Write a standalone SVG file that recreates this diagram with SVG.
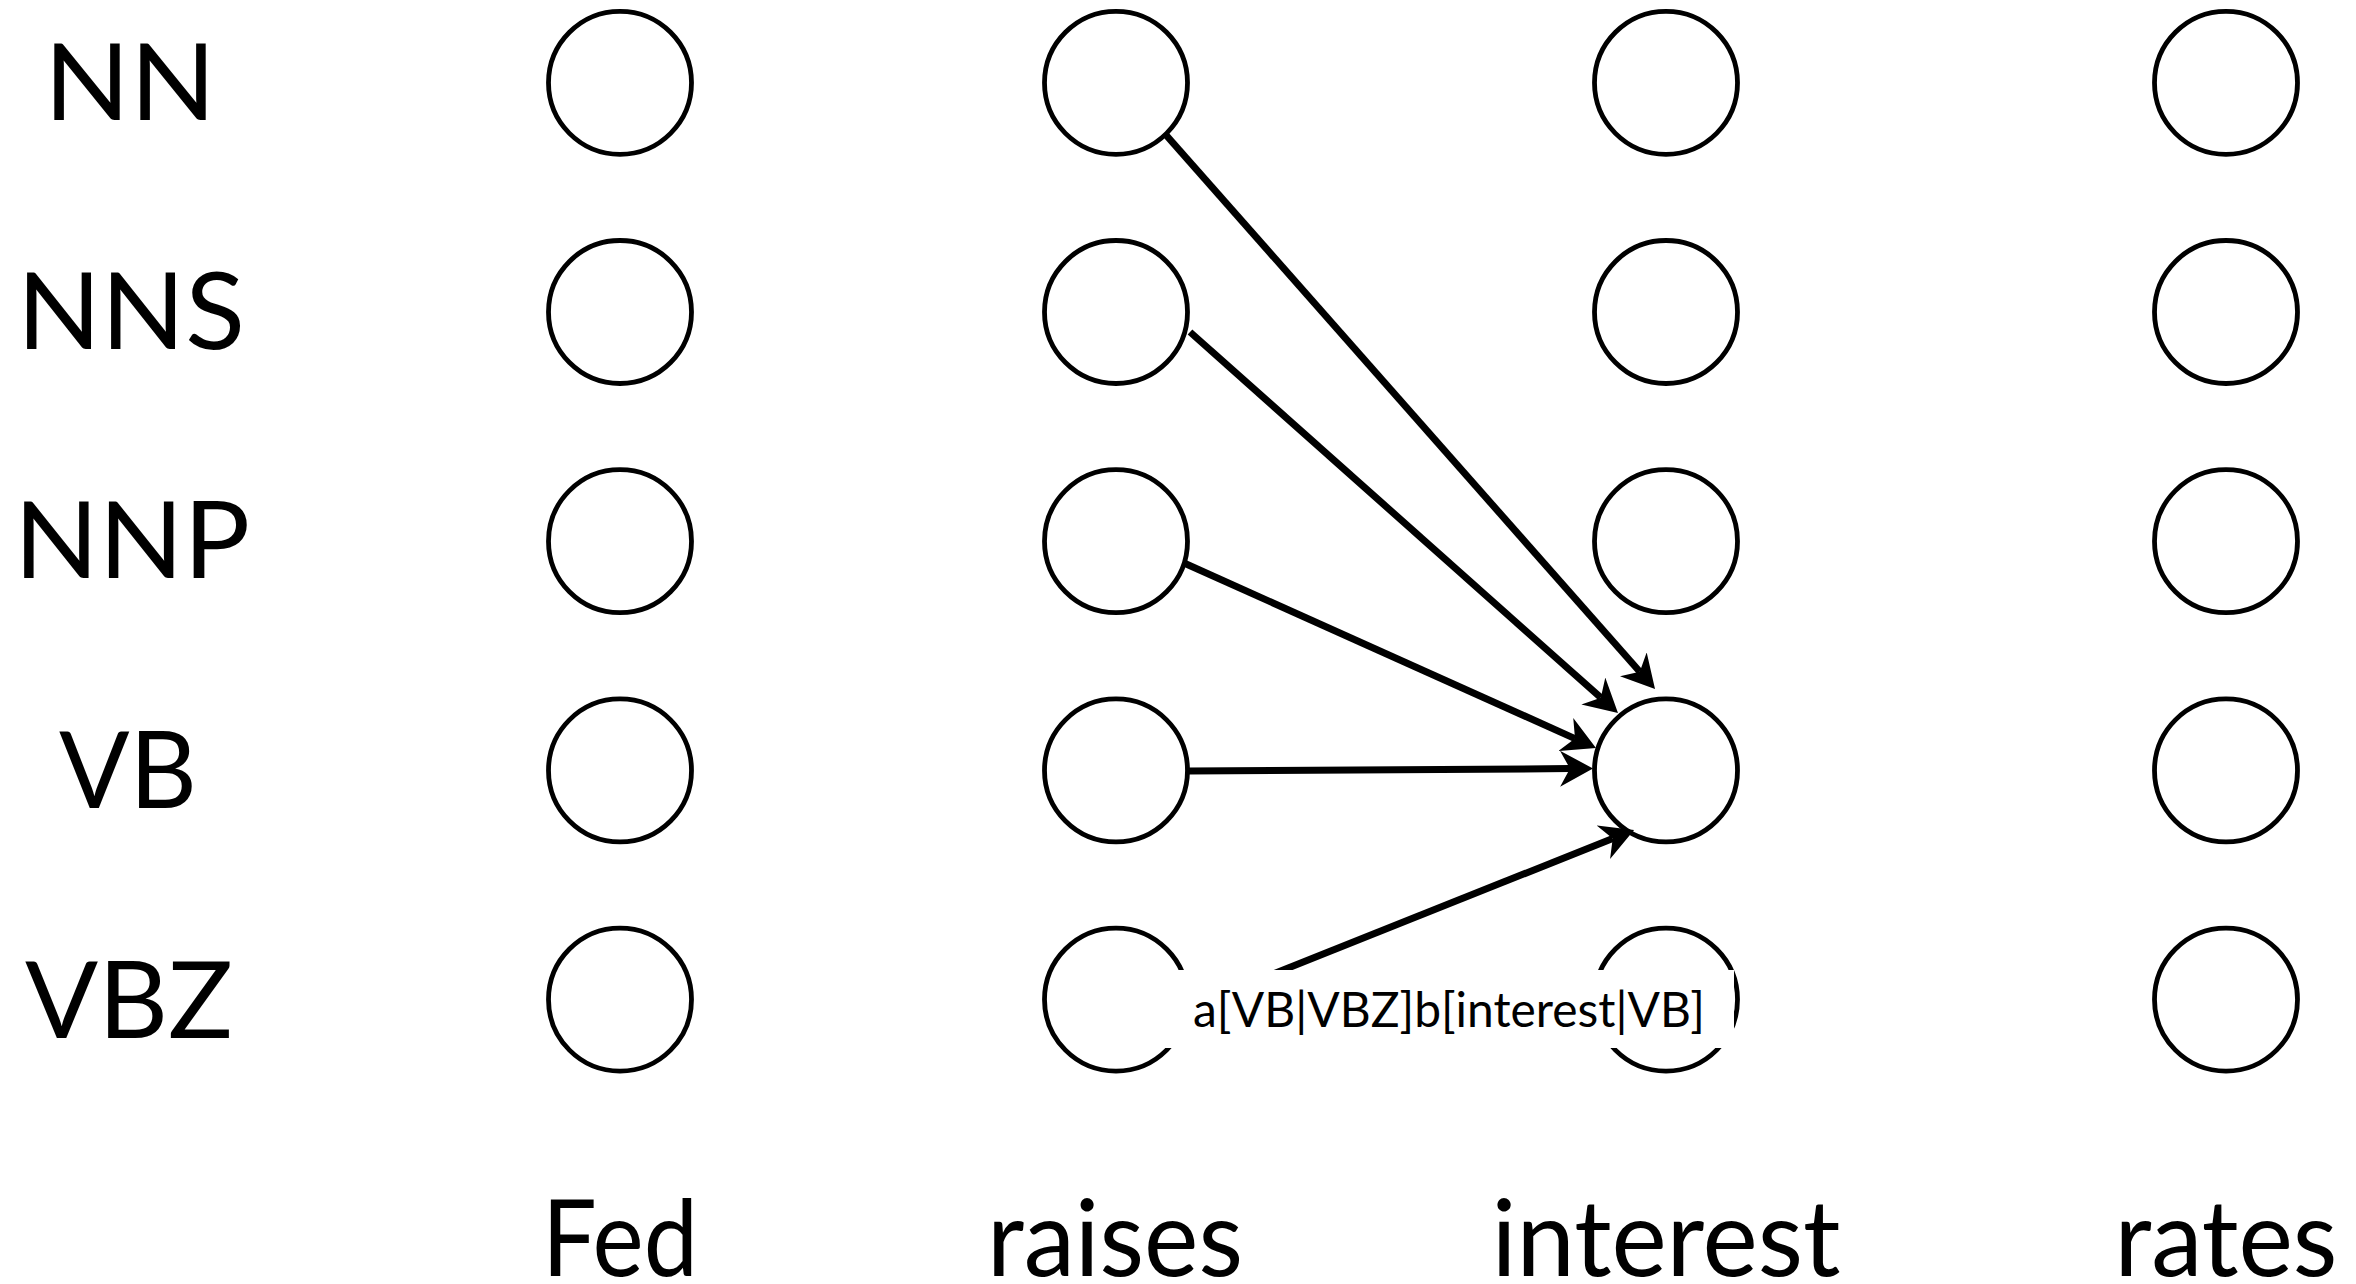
<svg xmlns="http://www.w3.org/2000/svg" width="2356" height="1284" viewBox="0 0 2356 1284">
  <style>
    .node { fill: none; stroke: #000; stroke-width: 4.8; }
    .lbl { font-family: Lato, "Liberation Sans", sans-serif; font-size: 107px; fill: #000; text-anchor: middle; }
    .edge { fill: none; stroke: #000; stroke-width: 7; }
    .elabel { font-family: Lato, "Liberation Sans", sans-serif; font-size: 48px; fill: #000; text-anchor: middle; }
  </style>
  <defs>
    <marker id="arrow" markerUnits="userSpaceOnUse" markerWidth="33" markerHeight="36" viewBox="0 0 33 36" refX="10" refY="18" orient="auto">
      <path d="M0,0 L33,18 L0,36 L10,18 Z" fill="#000"/>
    </marker>
  </defs>
  <rect width="2356" height="1284" fill="#fff"/>

  <g id="row-labels">
    <text class="lbl" x="130" y="120" textLength="172" lengthAdjust="spacingAndGlyphs">NN</text>
    <text class="lbl" x="131" y="349.3" textLength="228" lengthAdjust="spacingAndGlyphs">NNS</text>
    <text class="lbl" x="132" y="578.3" textLength="236" lengthAdjust="spacingAndGlyphs">NNP</text>
    <text class="lbl" x="128" y="808.3" textLength="138" lengthAdjust="spacingAndGlyphs">VB</text>
    <text class="lbl" x="129" y="1037.7" textLength="208" lengthAdjust="spacingAndGlyphs">VBZ</text>
  </g>

  <g id="word-labels">
    <text class="lbl" x="620" y="1276" textLength="156" lengthAdjust="spacingAndGlyphs">Fed</text>
    <text class="lbl" x="1115" y="1276" textLength="256" lengthAdjust="spacingAndGlyphs">raises</text>
    <text class="lbl" x="1666" y="1276" textLength="349" lengthAdjust="spacingAndGlyphs">interest</text>
    <text class="lbl" x="2226" y="1276" textLength="223" lengthAdjust="spacingAndGlyphs">rates</text>
  </g>

  <g id="col-Fed">
    <circle id="Fed-NN" class="node" cx="620" cy="82.8" r="71.5"/>
    <circle id="Fed-NNS" class="node" cx="620" cy="312" r="71.5"/>
    <circle id="Fed-NNP" class="node" cx="620" cy="541.2" r="71.5"/>
    <circle id="Fed-VB" class="node" cx="620" cy="770.4" r="71.5"/>
    <circle id="Fed-VBZ" class="node" cx="620" cy="999.6" r="71.5"/>
  </g>
  <g id="col-raises">
    <circle id="raises-NN" class="node" cx="1116" cy="82.8" r="71.5"/>
    <circle id="raises-NNS" class="node" cx="1116" cy="312" r="71.5"/>
    <circle id="raises-NNP" class="node" cx="1116" cy="541.2" r="71.5"/>
    <circle id="raises-VB" class="node" cx="1116" cy="770.4" r="71.5"/>
    <circle id="raises-VBZ" class="node" cx="1116" cy="999.6" r="71.5"/>
  </g>
  <g id="col-interest">
    <circle id="interest-NN" class="node" cx="1666" cy="82.8" r="71.5"/>
    <circle id="interest-NNS" class="node" cx="1666" cy="312" r="71.5"/>
    <circle id="interest-NNP" class="node" cx="1666" cy="541.2" r="71.5"/>
    <circle id="interest-VB" class="node" cx="1666" cy="770.4" r="71.5"/>
    <circle id="interest-VBZ" class="node" cx="1666" cy="999.6" r="71.5"/>
  </g>
  <g id="col-rates">
    <circle id="rates-NN" class="node" cx="2226" cy="82.8" r="71.5"/>
    <circle id="rates-NNS" class="node" cx="2226" cy="312" r="71.5"/>
    <circle id="rates-NNP" class="node" cx="2226" cy="541.2" r="71.5"/>
    <circle id="rates-VB" class="node" cx="2226" cy="770.4" r="71.5"/>
    <circle id="rates-VBZ" class="node" cx="2226" cy="999.6" r="71.5"/>
  </g>

  <g id="connectors">
    <line class="edge" x1="1166" y1="135" x2="1639.8" y2="671.8" marker-end="url(#arrow)"/>
    <line class="edge" x1="1190" y1="332" x2="1600.8" y2="697.7" marker-end="url(#arrow)"/>
    <line class="edge" x1="1184" y1="563" x2="1575" y2="738.6" marker-end="url(#arrow)"/>
    <line class="edge" x1="1189" y1="771" x2="1570" y2="768.6" marker-end="url(#arrow)"/>
    <line class="edge" x1="1188" y1="1008" x2="1612.7" y2="838.5" marker-end="url(#arrow)"/>
  </g>

  <g id="edge-label">
    <rect x="1163" y="970" width="571" height="78" fill="#fff"/>
    <text class="elabel" x="1449" y="1026.7" textLength="512" lengthAdjust="spacingAndGlyphs">a[VB|VBZ]b[interest|VB]</text>
  </g>
</svg>
